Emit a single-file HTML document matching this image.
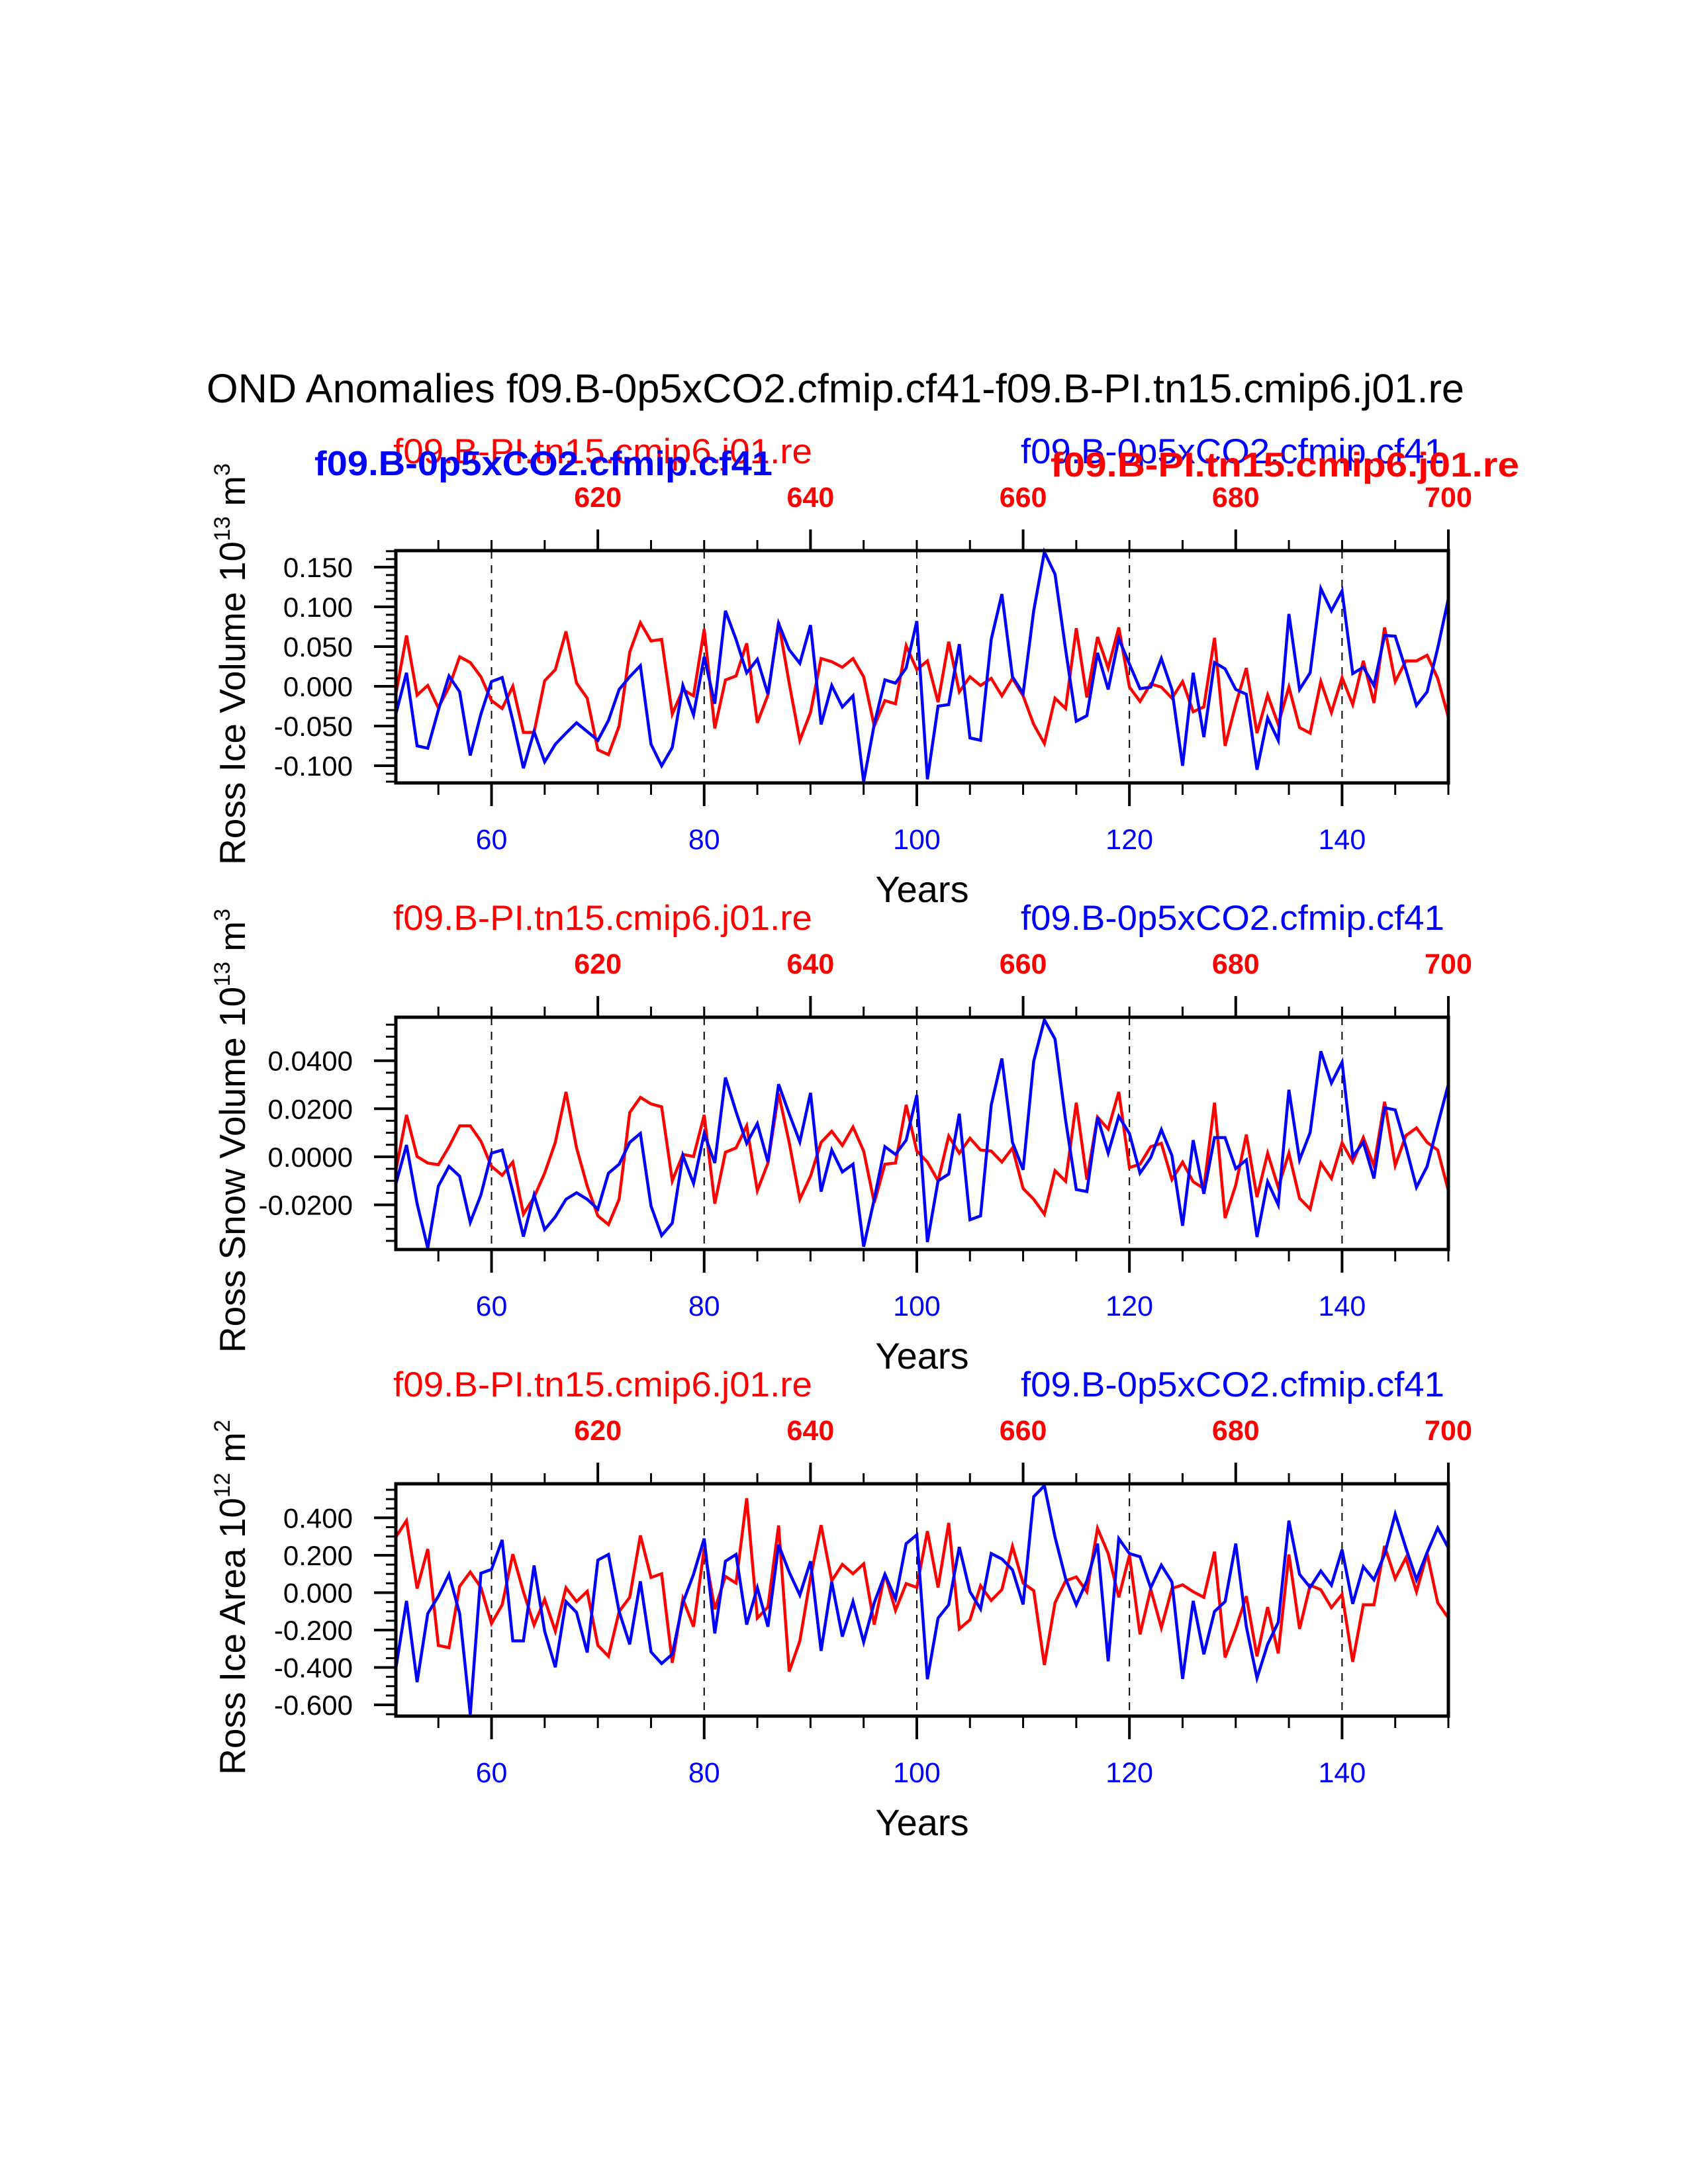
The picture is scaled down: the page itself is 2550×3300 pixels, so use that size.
<!DOCTYPE html>
<html><head><meta charset="utf-8"><style>
html,body{margin:0;padding:0;background:#fff;}
svg{display:block;font-family:"Liberation Sans",Arial,sans-serif;}
</style></head>
<body>
<svg id="chart" xmlns="http://www.w3.org/2000/svg" width="2550" height="3300" viewBox="0 0 2550 3300">
<rect width="2550" height="3300" fill="#fff"/>
<text x="312" y="608" font-size="61" textLength="1900" lengthAdjust="spacingAndGlyphs" fill="#000">OND Anomalies f09.B-0p5xCO2.cfmip.cf41-f09.B-PI.tn15.cmip6.j01.re</text>
<g id="plots"></g>
</svg>
<script>
const years = [];
for (let y = 51; y <= 150; y++) years.push(y);

const iceVolBlue = [-0.035,0.017,-0.075,-0.078,-0.03,0.013,-0.007,-0.087,-0.035,0.006,0.011,-0.043,-0.103,-0.057,-0.095,-0.073,-0.059,-0.046,-0.057,-0.068,-0.043,-0.004,0.012,0.026,-0.073,-0.1,-0.077,0.001,-0.036,0.037,-0.022,0.095,0.059,0.017,0.034,-0.01,0.079,0.046,0.029,0.077,-0.048,0.001,-0.026,-0.012,-0.12,-0.048,0.008,0.004,0.023,0.082,-0.117,-0.025,-0.023,0.053,-0.065,-0.068,0.059,0.116,0.012,-0.009,0.095,0.169,0.141,0.046,-0.044,-0.037,0.042,-0.004,0.06,0.028,-0.003,-0.001,0.035,-0.004,-0.1,0.017,-0.064,0.03,0.022,-0.004,-0.01,-0.105,-0.04,-0.068,0.091,-0.004,0.017,0.123,0.095,0.12,0.016,0.024,0.001,0.064,0.063,0.021,-0.024,-0.007,0.048,0.11];
const iceVolRed = [-0.01,0.064,-0.011,0.001,-0.027,-0.001,0.037,0.03,0.012,-0.018,-0.028,0,-0.058,-0.058,0.007,0.021,0.069,0.004,-0.015,-0.08,-0.086,-0.05,0.043,0.08,0.057,0.059,-0.035,-0.004,-0.012,0.072,-0.053,0.008,0.013,0.054,-0.046,-0.011,0.081,0.004,-0.068,-0.033,0.035,0.031,0.024,0.035,0.012,-0.05,-0.018,-0.022,0.051,0.021,0.032,-0.02,0.056,-0.007,0.012,0.001,0.01,-0.012,0.01,-0.012,-0.048,-0.072,-0.015,-0.028,0.073,-0.014,0.062,0.023,0.074,-0.001,-0.019,0.003,-0.001,-0.015,0.006,-0.032,-0.026,0.061,-0.075,-0.023,0.023,-0.059,-0.011,-0.048,-0.001,-0.052,-0.059,0.006,-0.033,0.011,-0.023,0.032,-0.021,0.074,0.006,0.032,0.032,0.039,0.01,-0.039];
const snowVolBlue = [-0.0113,0.0049,-0.0195,-0.038,-0.0122,-0.004,-0.0081,-0.0273,-0.0159,0.0015,0.0028,-0.0145,-0.0332,-0.0159,-0.0303,-0.025,-0.0177,-0.015,-0.0177,-0.0218,-0.0068,-0.0031,0.006,0.0097,-0.0205,-0.0328,-0.0276,0.0005,-0.0111,0.0097,-0.0026,0.033,0.0188,0.0056,0.0138,-0.0022,0.0302,0.0179,0.0062,0.0266,-0.0145,0.0028,-0.0063,-0.0031,-0.0374,-0.0177,0.0042,0.001,0.0069,0.0257,-0.0355,-0.01,-0.0072,0.0179,-0.0262,-0.0246,0.0215,0.0409,0.006,-0.0054,0.0398,0.057,0.049,0.0152,-0.0136,-0.0145,0.0165,0.0015,0.0168,0.0097,-0.0068,-0.0004,0.0113,0.0005,-0.0287,0.0069,-0.0154,0.008,0.008,-0.0049,-0.0013,-0.0334,-0.0104,-0.02,0.0279,-0.0013,0.0101,0.0439,0.0307,0.0394,0.0001,0.006,-0.009,0.0204,0.0195,0.0042,-0.0127,-0.004,0.0133,0.0302];
const snowVolRed = [-0.0058,0.0174,0.0001,-0.0026,-0.0033,0.0042,0.0129,0.0129,0.0065,-0.004,-0.0077,-0.0022,-0.0239,-0.0168,-0.0068,0.006,0.027,0.0037,-0.0122,-0.0246,-0.0282,-0.0177,0.0184,0.0247,0.022,0.0208,-0.01,0.001,0.0001,0.0174,-0.0195,0.0019,0.0037,0.0129,-0.0141,-0.0026,0.0263,0.006,-0.0177,-0.0081,0.006,0.0106,0.0047,0.0124,0.0024,-0.0191,-0.0031,-0.0026,0.0216,0.0024,-0.0022,-0.01,0.0086,0.0015,0.0077,0.0028,0.0024,-0.0022,0.0037,-0.0132,-0.0177,-0.0239,-0.0058,-0.0102,0.0225,-0.0095,0.0165,0.0115,0.027,-0.0045,-0.0031,0.0042,0.0056,-0.0095,-0.0022,-0.0104,-0.0132,0.0225,-0.0255,-0.0118,0.0092,-0.0168,0.0015,-0.0127,0.0015,-0.0173,-0.0218,-0.0026,-0.009,0.0058,-0.0022,0.008,-0.0038,0.0229,-0.0036,0.0088,0.012,0.006,0.0028,-0.0141];
const iceAreaBlue = [-0.405,-0.044,-0.478,-0.112,-0.019,0.098,-0.112,-0.65,0.104,0.124,0.282,-0.258,-0.258,0.145,-0.206,-0.399,-0.048,-0.106,-0.32,0.174,0.204,-0.101,-0.276,0.06,-0.317,-0.379,-0.329,-0.054,0.098,0.289,-0.218,0.168,0.204,-0.171,0.026,-0.182,0.256,0.11,-0.013,0.168,-0.311,0.057,-0.235,-0.048,-0.264,-0.054,0.098,-0.033,0.262,0.309,-0.463,-0.136,-0.065,0.244,0.005,-0.087,0.209,0.18,0.122,-0.063,0.513,0.572,0.297,0.075,-0.065,0.063,0.262,-0.367,0.289,0.209,0.192,0.026,0.147,0.057,-0.461,-0.044,-0.329,-0.101,-0.048,0.262,-0.182,-0.457,-0.276,-0.159,0.385,0.098,0.028,0.116,0.04,0.23,-0.06,0.139,0.069,0.204,0.42,0.239,0.069,0.215,0.346,0.239];
const iceAreaRed = [0.297,0.385,0.022,0.233,-0.282,-0.294,0.034,0.11,0.028,-0.165,-0.065,0.206,0.005,-0.173,-0.036,-0.206,0.026,-0.048,0.007,-0.282,-0.34,-0.101,-0.025,0.306,0.081,0.101,-0.375,-0.033,-0.182,0.236,-0.089,0.087,0.051,0.505,-0.136,-0.077,0.359,-0.422,-0.258,0.081,0.361,0.063,0.151,0.101,0.154,-0.171,0.101,-0.095,0.048,0.028,0.329,0.028,0.373,-0.194,-0.145,0.037,-0.042,0.016,0.248,0.051,0.011,-0.387,-0.054,0.063,0.084,0.005,0.344,0.209,-0.025,0.2,-0.223,0.019,-0.188,0.022,0.042,0.005,-0.025,0.219,-0.346,-0.194,-0.019,-0.34,-0.077,-0.325,0.204,-0.194,0.04,0.016,-0.08,-0.009,-0.37,-0.065,-0.065,0.25,0.075,0.186,0.005,0.209,-0.054,-0.136];

const iceVolTickVals = [0.15,0.1,0.05,0,-0.05,-0.1];
const iceVolTickLabels = ["0.150","0.100","0.050","0.000","-0.050","-0.100"];
const snowVolTickVals = [0.04,0.02,0,-0.02];
const snowVolTickLabels = ["0.0400","0.0200","0.0000","-0.0200"];
const iceAreaTickVals = [0.4,0.2,0,-0.2,-0.4,-0.6];
const iceAreaTickLabels = ["0.400","0.200","0.000","-0.200","-0.400","-0.600"];
const bottomTickYears = [60,80,100,120,140];
const topTickYears = [70,90,110,130,150];
const topTickLabels = ["620","640","660","680","700"];

const NS = "http://www.w3.org/2000/svg";
const root = document.getElementById("plots");
const X0 = 598, X1 = 2188, YR0 = 51, YR1 = 150;
function xs(yr){ return X0 + (yr - YR0) * (X1 - X0) / (YR1 - YR0); }
function mk(tag, attrs, parent){
  const e = document.createElementNS(NS, tag);
  for (const k in attrs) e.setAttribute(k, attrs[k]);
  (parent || root).appendChild(e);
  return e;
}

const panels = [
 {top:832, bot:1183, vmin:-0.1216, vmax:0.1707, minor:0.01, blue:iceVolBlue, red:iceVolRed, tv:iceVolTickVals, tl:iceVolTickLabels, title:"Ross Ice Volume", exp:"13", unit:"3", name:"ice-volume", extra:true},
 {top:1537, bot:1888, vmin:-0.0386, vmax:0.0581, minor:0.005, blue:snowVolBlue, red:snowVolRed, tv:snowVolTickVals, tl:snowVolTickLabels, title:"Ross Snow Volume", exp:"13", unit:"3", name:"snow-volume", extra:false},
 {top:2242, bot:2593, vmin:-0.66, vmax:0.582, minor:0.05, blue:iceAreaBlue, red:iceAreaRed, tv:iceAreaTickVals, tl:iceAreaTickLabels, title:"Ross Ice Area", exp:"12", unit:"2", name:"ice-area", extra:false}
];

panels.forEach(p => {
  const g = mk("g", {});
  
  
  const ys = v => p.bot - (v - p.vmin) * (p.bot - p.top) / (p.vmax - p.vmin);
  const off = p.top - 832;
  bottomTickYears.forEach(yr => {
    const l = mk("line", {x1:xs(yr), x2:xs(yr), y1:p.top, y2:p.bot, stroke:"#000", "stroke-width":2, "stroke-dasharray":"12,10"}, g);
    
    
  });
  [[p.red,"#ff0000","red-series"],[p.blue,"#0000ff","blue-series"]].forEach(([arr,col,nm]) => {
    const pts = arr.map((v,i) => xs(years[i]).toFixed(1)+","+ys(v).toFixed(1)).join(" ");
    const pl = mk("polyline", {points:pts, fill:"none", stroke:col, "stroke-width":4.5, "stroke-linejoin":"miter"}, g);
    
    
  });
  const fr = mk("rect", {x:X0, y:p.top, width:X1-X0, height:p.bot-p.top, fill:"none", stroke:"#000", "stroke-width":5}, g);
  
  
  for (let yr = 55; yr <= 150; yr += 5) {
    const x = xs(yr);
    const bmaj = bottomTickYears.includes(yr);
    mk("line", {x1:x, x2:x, y1:p.bot, y2:p.bot + (bmaj?35:18), stroke:"#000", "stroke-width":bmaj?4:3}, g);
    const tmaj = topTickYears.includes(yr);
    mk("line", {x1:x, x2:x, y1:p.top, y2:p.top - (tmaj?32:16), stroke:"#000", "stroke-width":tmaj?4:3}, g);
  }
  bottomTickYears.forEach(yr => {
    const t = mk("text", {x:xs(yr), y:p.bot+100, "font-size":43, "text-anchor":"middle", fill:"#0000ff"}, g);
    t.textContent = yr;
    
    
  });
  topTickYears.forEach((yr,i) => {
    const t = mk("text", {x:xs(yr), y:766+off, "font-size":43, "font-weight":"bold", "text-anchor":"middle", fill:"#ff0000"}, g);
    t.textContent = topTickLabels[i];
    
    
  });
  const start = Math.ceil(p.vmin / p.minor - 1e-6);
  for (let k = start; k * p.minor <= p.vmax + 1e-9; k++) {
    const v = k * p.minor, y = ys(v);
    const maj = p.tv.some(t => Math.abs(t - v) < p.minor/10);
    mk("line", {x1:X0, x2:X0 - (maj?33:15), y1:y, y2:y, stroke:"#000", "stroke-width":maj?4:3}, g);
  }
  p.tv.forEach((v,i) => {
    const t = mk("text", {x:533, y:ys(v)+15, "font-size":42, "text-anchor":"end", fill:"#000"}, g);
    t.textContent = p.tl[i];
    
    
  });
  const xt = mk("text", {x:(X0+X1)/2, y:p.bot+180, "font-size":56, "text-anchor":"middle", fill:"#000"}, g);
  xt.textContent = "Years";
  
  
  const cy = (p.top + p.bot) / 2 - 4;
  const yt = mk("text", {x:0, y:0, transform:`translate(370,${cy}) rotate(-90)`, "font-size":55, "text-anchor":"middle", fill:"#000"}, g);
  
  
  const s1 = mk("tspan", {}, yt); s1.textContent = p.title + " 10";
  const s2 = mk("tspan", {dy:-23, "font-size":34}, yt); s2.textContent = p.exp;
  const s3 = mk("tspan", {dy:23}, yt); s3.textContent = " m";
  const s4 = mk("tspan", {dy:-23, "font-size":34}, yt); s4.textContent = p.unit;
  const rl = mk("text", {x:594, y:700+off, "font-size":53, textLength:633, lengthAdjust:"spacingAndGlyphs", fill:"#ff0000"}, g);
  rl.textContent = "f09.B-PI.tn15.cmip6.j01.re";
  
  
  const bl = mk("text", {x:1542, y:700+off, "font-size":53, textLength:640, lengthAdjust:"spacingAndGlyphs", fill:"#0000ff"}, g);
  bl.textContent = "f09.B-0p5xCO2.cfmip.cf41";
  
  
  if (p.extra) {
    const b1 = mk("text", {x:475, y:718, "font-size":52, "font-weight":"bold", textLength:692, lengthAdjust:"spacingAndGlyphs", fill:"#0000ff"}, g);
    b1.textContent = "f09.B-0p5xCO2.cfmip.cf41";
    
    
    const b2 = mk("text", {x:1587, y:720, "font-size":52, "font-weight":"bold", textLength:708, lengthAdjust:"spacingAndGlyphs", fill:"#ff0000"}, g);
    b2.textContent = "f09.B-PI.tn15.cmip6.j01.re";
    
    
  }
});
</script>
</body></html>
